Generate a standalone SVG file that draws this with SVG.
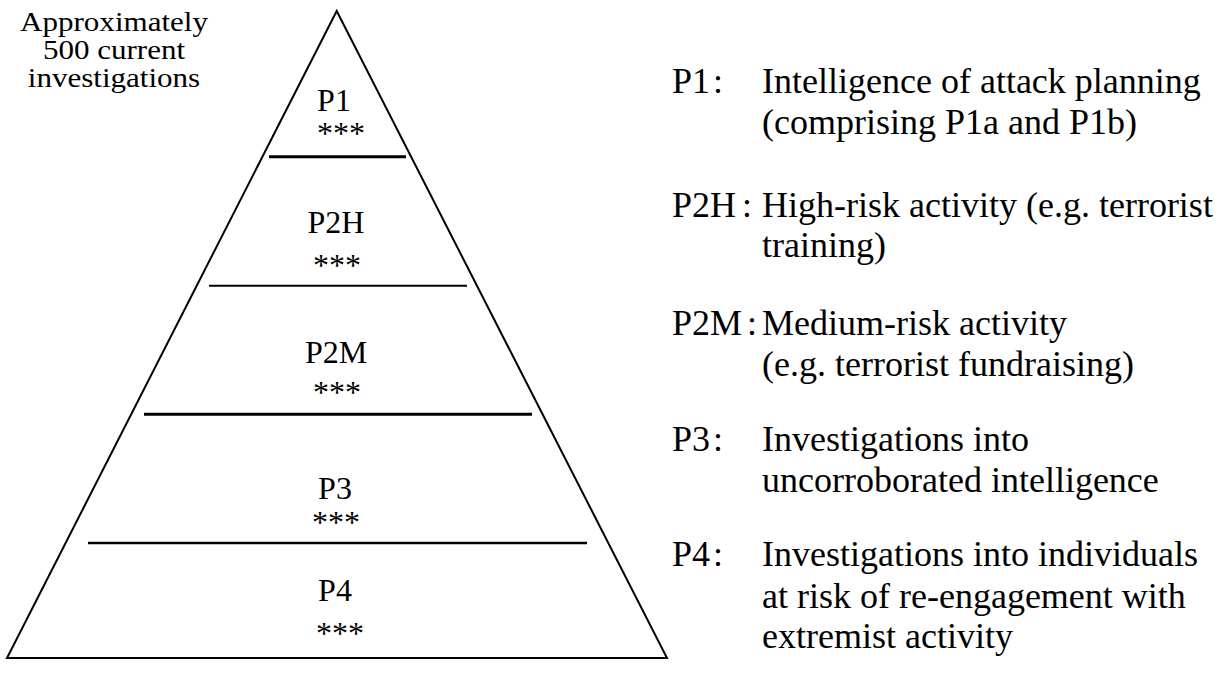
<svg xmlns="http://www.w3.org/2000/svg" width="1216" height="693" viewBox="0 0 1216 693">
<style>
text{font-family:"Liberation Serif","Times New Roman",serif;fill:#000}
.lbl{font-size:32px;text-anchor:middle}
.note{font-size:27px;text-anchor:middle}
.key{font-size:36px}
.tier{stroke:#000;fill:none}
</style>
<rect width="1216" height="693" fill="#fff"/>
<g id="pyramid">
<polygon points="336.7,11 667,658 7,658" fill="none" stroke="#000" stroke-width="2" stroke-linejoin="miter"/>
</g>
<g id="dividers">
<line class="tier" x1="269" y1="156.7" x2="406" y2="156.7" stroke-width="3"/>
<line class="tier" x1="209" y1="285.7" x2="467" y2="285.7" stroke-width="2"/>
<line class="tier" x1="144" y1="414.3" x2="532" y2="414.3" stroke-width="3"/>
<line class="tier" x1="88" y1="543" x2="587" y2="543" stroke-width="2.5"/>
</g>
<g id="note" transform="translate(114,0) scale(1.15,1)">
<text class="note" x="0" y="31">Approximately</text>
<text class="note" x="0" y="59">500 current</text>
<text class="note" x="0" y="87">investigations</text>
</g>
<g id="tier-p1"><text class="lbl" x="334" y="111">P1</text><text class="lbl" x="341" y="144">***</text></g>
<g id="tier-p2h"><text class="lbl" x="336" y="233">P2H</text><text class="lbl" x="337" y="276">***</text></g>
<g id="tier-p2m"><text class="lbl" x="336" y="363">P2M</text><text class="lbl" x="337" y="403">***</text></g>
<g id="tier-p3"><text class="lbl" x="335" y="499">P3</text><text class="lbl" x="336" y="533">***</text></g>
<g id="tier-p4"><text class="lbl" x="335" y="601">P4</text><text class="lbl" x="340" y="644">***</text></g>
<g id="key-p1"><text class="key" x="672" y="93">P1</text><text class="key" x="713" y="93">:</text><text class="key" x="762" y="93">Intelligence of attack planning</text><text class="key" x="762" y="134">(comprising P1a and P1b)</text></g>
<g id="key-p2h"><text class="key" x="672" y="217">P2H</text><text class="key" x="742" y="217">:</text><text class="key" x="762" y="217">High-risk activity (e.g. terrorist</text><text class="key" x="762" y="257">training)</text></g>
<g id="key-p2m"><text class="key" x="672" y="335">P2M</text><text class="key" x="747" y="335">:</text><text class="key" x="762" y="335">Medium-risk activity</text><text class="key" x="762" y="376">(e.g. terrorist fundraising)</text></g>
<g id="key-p3"><text class="key" x="672" y="451">P3</text><text class="key" x="713" y="451">:</text><text class="key" x="762" y="451">Investigations into</text><text class="key" x="762" y="492">uncorroborated intelligence</text></g>
<g id="key-p4"><text class="key" x="672" y="566">P4</text><text class="key" x="713" y="566">:</text><text class="key" x="762" y="566">Investigations into individuals</text><text class="key" x="762" y="608">at risk of re-engagement with</text><text class="key" x="762" y="648">extremist activity</text></g>
</svg>
